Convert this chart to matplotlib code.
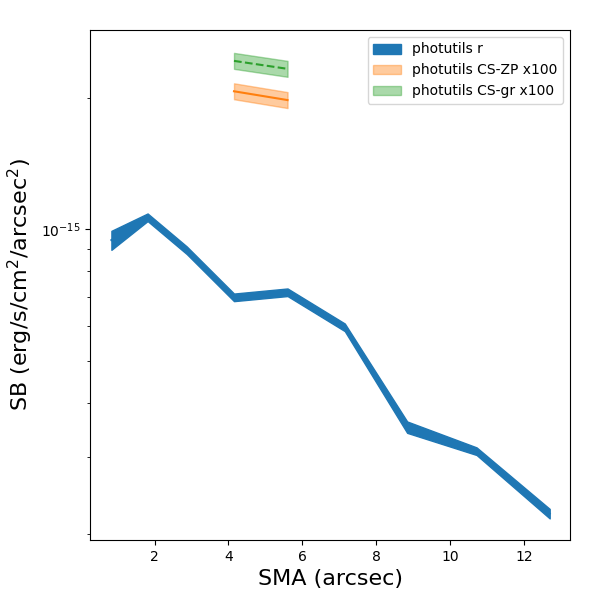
import numpy as np
import matplotlib
matplotlib.use("Agg")
import matplotlib.pyplot as plt

sma = [0.83, 1.81, 2.87, 4.15, 5.6, 7.15, 8.84, 10.72, 12.7]
sb_r = [0.944e-15, 1.065e-15, 0.895e-15, 0.698e-15, 0.717e-15, 0.596e-15, 0.352e-15, 0.310e-15, 0.223e-15]
err_r = [0.05, 0.02, 0.02, 0.02, 0.02, 0.02, 0.03, 0.02, 0.025]

sma_cs = [4.15, 5.6]
sb_zp = [2.07e-15, 1.976e-15]
sb_gr = [2.43e-15, 2.33e-15]
err_cs = 0.043

fig, ax = plt.subplots(figsize=(6, 6), dpi=100)
r = np.array(sb_r); e = np.array(err_r)
ax.plot(sma, r, color='#1f77b4', lw=1.5)
ax.fill_between(sma, r * (1 - e), r * (1 + e), color='#1f77b4', label='photutils r')
zp = np.array(sb_zp); gr = np.array(sb_gr)
ax.plot(sma_cs, zp, color='#ff7f0e', lw=1.5)
ax.fill_between(sma_cs, zp / (1 + err_cs), zp * (1 + err_cs), color='#ff7f0e', alpha=0.4, label='photutils CS-ZP x100')
ax.plot(sma_cs, gr, color='#2ca02c', lw=1.5, ls='--')
ax.fill_between(sma_cs, gr / (1 + err_cs), gr * (1 + err_cs), color='#2ca02c', alpha=0.4, label='photutils CS-gr x100')
ax.set_yscale('log')
ax.set_ylim(1.94e-16, 2.86e-15)
ax.set_xlim(0.25, 13.25)
ax.set_xlabel('SMA (arcsec)', fontsize=16)
ax.set_ylabel('SB (erg/s/cm$^2$/arcsec$^2$)', fontsize=16)
ax.legend(loc='upper right')
fig.subplots_adjust(left=0.15, right=0.95, top=0.95, bottom=0.1)
fig.savefig('out.png')
